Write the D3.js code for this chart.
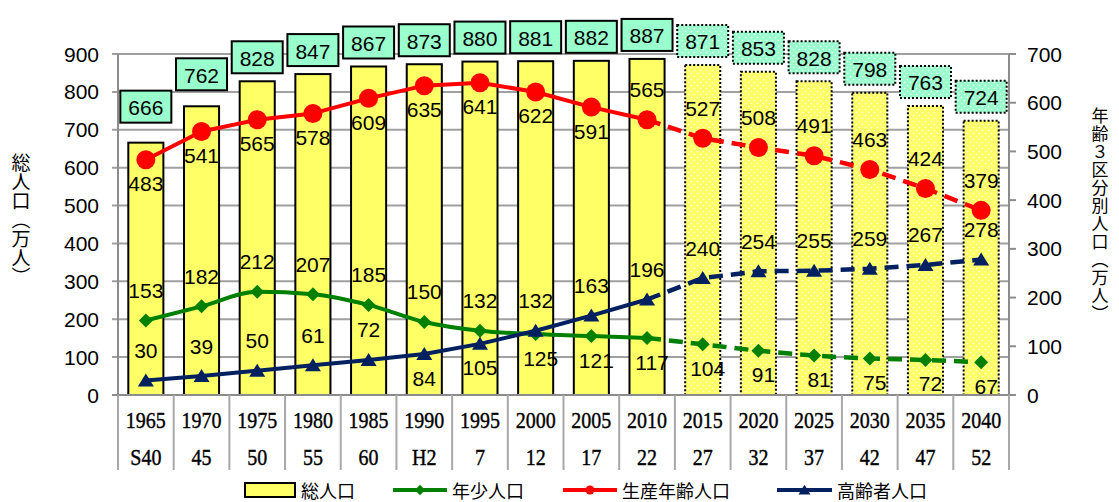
<!DOCTYPE html>
<html><head><meta charset="utf-8">
<script src="https://cdn.jsdelivr.net/npm/d3@7"></script>
<style>
html,body{margin:0;padding:0;background:#fff;}
svg{display:block;}
</style></head>
<body>
<svg id="chart" width="1119" height="502"></svg>
<script>
const years = ["1965","1970","1975","1980","1985","1990","1995","2000","2005","2010","2015","2020","2025","2030","2035","2040"];
const eras = ["S40","45","50","55","60","H2","7","12","17","22","27","32","37","42","47","52"];
const totalPop = [666,762,828,847,867,873,880,881,882,887,871,853,828,798,763,724];
const youthPop = [153,182,212,207,185,150,132,125,121,117,104,91,81,75,72,67];
const workingPop = [483,541,565,578,609,635,641,622,591,565,527,508,491,463,424,379];
const elderlyPop = [30,39,50,61,72,84,105,132,163,196,240,254,255,259,267,278];
const leftTicks = [0,100,200,300,400,500,600,700,800,900];
const rightTicks = [0,100,200,300,400,500,600,700];
const firstProjected = 10;

// label sides (a = above, b = below)
const youthSide   = ["a","a","a","a","a","a","a","b","b","b","b","b","b","b","b","b"];
const workingSide = ["b","b","b","b","b","b","b","b","b","a","a","a","a","a","a","a"];
const elderlySide = ["a","a","a","a","a","b","b","a","a","a","a","a","a","a","a","a"];
const boxExtra = [12,8,0,0,0,0,0,0,0,0,0,0,0,0,0,0];

const svg = d3.select("#chart");
const L = 118, R = 1009, T = 54, B = 395;

const x = d3.scaleBand().domain(years).range([L, R]).paddingInner(0.37).paddingOuter(0.185);
const xc = d => x(d) + x.bandwidth()/2;
const yL = d3.scaleLinear().domain([0,900]).range([B, T]);
const yR = d3.scaleLinear().domain([0,700]).range([B, T]);

const defs = svg.append("defs");
function dotPattern(id, bg) {
  const p = defs.append("pattern").attr("id", id).attr("patternUnits","userSpaceOnUse")
    .attr("width", 6).attr("height", 6);
  p.append("rect").attr("width",6).attr("height",6).attr("fill",bg);
  p.append("circle").attr("cx",1.5).attr("cy",1.5).attr("r",0.8).attr("fill","#fff").attr("opacity",0.85);
  p.append("circle").attr("cx",4.5).attr("cy",4.5).attr("r",0.8).attr("fill","#fff").attr("opacity",0.85);
}
dotPattern("dotY", "#ffff66");
dotPattern("dotG", "#99ffcc");

const gridColor = "#a0a0a0", axisColor = "#8c8c8c";

// gridlines
svg.append("g").selectAll("line").data(leftTicks).join("line")
  .attr("x1", L-6).attr("x2", R).attr("y1", d=>yL(d)).attr("y2", d=>yL(d))
  .attr("stroke", gridColor).attr("stroke-width", 2);

// left tick labels
svg.append("g").selectAll("text").data(leftTicks).join("text")
  .attr("x", 99).attr("y", d=>yL(d)).attr("text-anchor","end").attr("dominant-baseline","central")
  .attr("font-family","'Liberation Sans', Arial, sans-serif").attr("font-size", 21).text(d=>d);

// right axis ticks & labels
svg.append("g").selectAll("line").data(rightTicks).join("line")
  .attr("x1", R).attr("x2", R+7).attr("y1", d=>yR(d)).attr("y2", d=>yR(d))
  .attr("stroke", axisColor).attr("stroke-width", 2);
svg.append("g").selectAll("text").data(rightTicks).join("text")
  .attr("x", 1027).attr("y", d=>yR(d)).attr("text-anchor","start").attr("dominant-baseline","central")
  .attr("font-family","'Liberation Sans', Arial, sans-serif").attr("font-size", 21).text(d=>d);

// bars
svg.append("g").selectAll("rect").data(years).join("rect")
  .attr("x", d=>x(d)).attr("width", x.bandwidth())
  .attr("y", (d,i)=>yL(totalPop[i])).attr("height", (d,i)=>B - yL(totalPop[i]))
  .attr("fill", (d,i)=> i>=firstProjected ? "url(#dotY)" : "#ffff66")
  .attr("stroke", "#000").attr("stroke-width", 2)
  .attr("stroke-dasharray", (d,i)=> i>=firstProjected ? "2,2" : null);

// axes lines
svg.append("line").attr("x1", L).attr("x2", L).attr("y1", T).attr("y2", B).attr("stroke", axisColor).attr("stroke-width", 2);
svg.append("line").attr("x1", R).attr("x2", R).attr("y1", T).attr("y2", B).attr("stroke", axisColor).attr("stroke-width", 2);
svg.append("line").attr("x1", L-6).attr("x2", R+7).attr("y1", B).attr("y2", B).attr("stroke", axisColor).attr("stroke-width", 2);

// category separators
const step = x.step();
const seps = d3.range(years.length+1).map(i => L + i*step);
svg.append("g").selectAll("line").data(seps).join("line")
  .attr("x1", d=>d).attr("x2", d=>d).attr("y1", B).attr("y2", 470)
  .attr("stroke", "#a8a8a8").attr("stroke-width", 2);

const serif = "'Liberation Serif', 'Times New Roman', serif";
function catRow(labels, yPos) {
  svg.append("g").selectAll("text").data(labels).join("text")
    .attr("transform", (d,i)=>`translate(${xc(years[i])},${yPos}) scale(1,1.18)`)
    .attr("text-anchor","middle").attr("dominant-baseline","central")
    .attr("font-family", serif).attr("font-size", 20).attr("stroke","#000").attr("stroke-width",0.35)
    .text(d=>d);
}
catRow(years, 420);
catRow(eras, 457);

// lines
function drawSeries(vals, color, curve, marker, side, belowDx) {
  const pts = vals.map((v,i)=>[xc(years[i]), yR(v)]);
  const line = d3.line().curve(curve);
  const g = svg.append("g");
  g.append("path").attr("d", line(pts.slice(0, firstProjected)))
    .attr("fill","none").attr("stroke", color).attr("stroke-width", 4).attr("stroke-linejoin","round");
  g.append("path").attr("d", line(pts.slice(firstProjected-1)))
    .attr("fill","none").attr("stroke", color).attr("stroke-width", 4.5).attr("stroke-dasharray","14,8");
  g.selectAll(".m").data(pts).join("path").attr("class","m")
    .attr("transform", p=>`translate(${p[0]},${p[1]})`)
    .attr("d", marker).attr("fill", color);
  svg.append("g").selectAll("text").data(vals).join("text")
    .attr("x", (v,i)=> pts[i][0] + (side[i]==="b" ? belowDx : 0))
    .attr("y", (v,i)=> pts[i][1] + (side[i]==="a" ? -30 : 24))
    .attr("text-anchor","middle").attr("dominant-baseline","central")
    .attr("font-family","'Liberation Sans', Arial, sans-serif").attr("font-size", 21).attr("fill","#000")
    .text(v=>v);
}
const diamond = "M0,-7L7,0L0,7L-7,0Z";
const triangle = "M0,-7L8,6L-8,6Z";
const circle = d3.symbol().type(d3.symbolCircle).size(Math.PI*9.5*9.5)();

drawSeries(youthPop, "#008000", d3.curveMonotoneX, diamond, youthSide, 5);
drawSeries(workingPop, "#ff0000", d3.curveLinear, circle, workingSide, 0);
drawSeries(elderlyPop, "#002060", d3.curveLinear, triangle, elderlySide, 0);

// total boxes
const bw = 51, bh = 32;
const boxG = svg.append("g");
years.forEach((d,i)=>{
  const cy = Math.max(27, yL(totalPop[i]) - 24 - boxExtra[i]);
  const proj = i >= firstProjected;
  boxG.append("rect").attr("x", xc(d)-bw/2).attr("y", cy-bh/2).attr("width", bw).attr("height", bh)
    .attr("fill", proj ? "url(#dotG)" : "#99ffcc").attr("stroke","#000").attr("stroke-width", 2)
    .attr("stroke-dasharray", proj ? "2,2" : null);
  boxG.append("text").attr("x", xc(d)).attr("y", cy+1).attr("text-anchor","middle").attr("dominant-baseline","central")
    .attr("font-family","'Liberation Sans', Arial, sans-serif").attr("font-size", 21).text(totalPop[i]);
});

// axis titles (vertical)
const cjk = "'Noto Sans CJK JP', 'Noto Sans', sans-serif";
svg.append("text").attr("x", 21).attr("y", 153).style("writing-mode","vertical-rl")
  .attr("font-family", cjk).attr("font-size", 19).text("総人口（万人）");
svg.append("text").attr("x", 1100).attr("y", 107).style("writing-mode","vertical-rl")
  .attr("font-family", cjk).attr("font-size", 17).attr("letter-spacing", 1).text("年齢３区分別人口（万人）");

// legend
const lg = svg.append("g").attr("font-family", cjk).attr("font-size", 18);
const ly = 490;
lg.append("rect").attr("x",245).attr("y",ly-7).attr("width",50).attr("height",14).attr("fill","#ffff66").attr("stroke","#000").attr("stroke-width",2);
lg.append("text").attr("x",301).attr("y",ly).attr("dominant-baseline","central").text("総人口");
const legItems = [
  {x1:393, x2:447, color:"#008000", marker:diamond, label:"年少人口"},
  {x1:563, x2:617, color:"#ff0000", marker:d3.symbol().type(d3.symbolCircle).size(Math.PI*6*6)(), label:"生産年齢人口"},
  {x1:777, x2:832, color:"#002060", marker:triangle, label:"高齢者人口"}
];
legItems.forEach(it=>{
  lg.append("line").attr("x1",it.x1).attr("x2",it.x2).attr("y1",ly).attr("y2",ly).attr("stroke",it.color).attr("stroke-width",4);
  lg.append("path").attr("d", it.marker).attr("transform",`translate(${(it.x1+it.x2)/2},${ly}) scale(0.75)`).attr("fill",it.color);
  lg.append("text").attr("x", it.x2+5).attr("y", ly).attr("dominant-baseline","central").text(it.label);
});
</script>
</body></html>
